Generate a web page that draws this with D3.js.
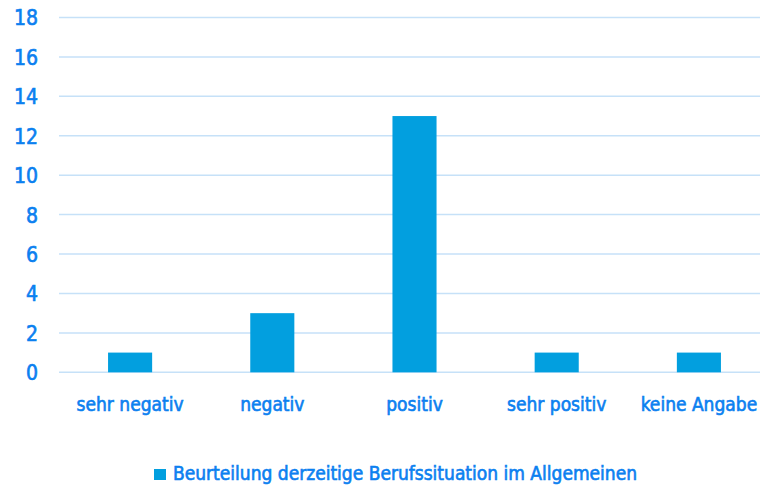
<!DOCTYPE html>
<html>
<head>
<meta charset="utf-8">
<script src="https://cdn.jsdelivr.net/npm/d3@7"></script>
<style>
  body { margin: 0; background: #fff; }
  svg { display: block; }
  text { font-family: "Liberation Sans Narrow", "DejaVu Sans Condensed", sans-serif; fill: #0b80f0; stroke: #0b80f0; stroke-width: 0.6px; }
</style>
</head>
<body>
<svg width="760" height="486"></svg>
<script>
const categories = ["sehr negativ", "negativ", "positiv", "sehr positiv", "keine Angabe"];
const values = [1, 3, 13, 1, 1];
const yTicks = [0, 2, 4, 6, 8, 10, 12, 14, 16, 18];
const seriesName = "Beurteilung derzeitige Berufssituation im Allgemeinen";

const svg = d3.select("svg");
const plotLeft = 59, plotRight = 770, plotTop = 17.5, plotBottom = 372.3;

const x = d3.scaleBand().domain(categories).range([plotLeft, plotRight]).paddingInner(0.69).paddingOuter(0.345);
const y = d3.scaleLinear().domain([0, 18]).range([plotBottom, plotTop]);

// gridlines
svg.append("g")
  .selectAll("line")
  .data(yTicks)
  .join("line")
  .attr("x1", plotLeft)
  .attr("x2", 760)
  .attr("y1", (d) => y(d))
  .attr("y2", (d) => y(d))
  .attr("stroke", "#c6e1f8")
  .attr("stroke-width", 1.5);

// y labels
svg.append("g")
  .selectAll("text")
  .data(yTicks)
  .join("text")
  .attr("x", 38)
  .attr("y", (d) => y(d))
  .attr("dy", "0.38em")
  .attr("text-anchor", "end")
  .style("font-size", "21px")
  .text((d) => d);

// bars
svg.append("g")
  .selectAll("rect")
  .data(values)
  .join("rect")
  .attr("x", (d, i) => x(categories[i]))
  .attr("width", x.bandwidth())
  .attr("y", (d) => y(d))
  .attr("height", (d) => y(0) - y(d))
  .attr("fill", "#029fdf");

// category labels
svg.append("g")
  .selectAll("text")
  .data(categories)
  .join("text")
  .attr("x", (d) => x(d) + x.bandwidth() / 2)
  .attr("y", 411)
  .attr("text-anchor", "middle")
  .style("font-size", "19px")
  .text((d) => d);

// legend
svg.append("rect")
  .attr("x", 154).attr("y", 469).attr("width", 12).attr("height", 11)
  .attr("fill", "#029fdf");
svg.append("text")
  .attr("x", 173).attr("y", 480)
  .style("font-size", "19px")
  .text(seriesName);
</script>
</body>
</html>
